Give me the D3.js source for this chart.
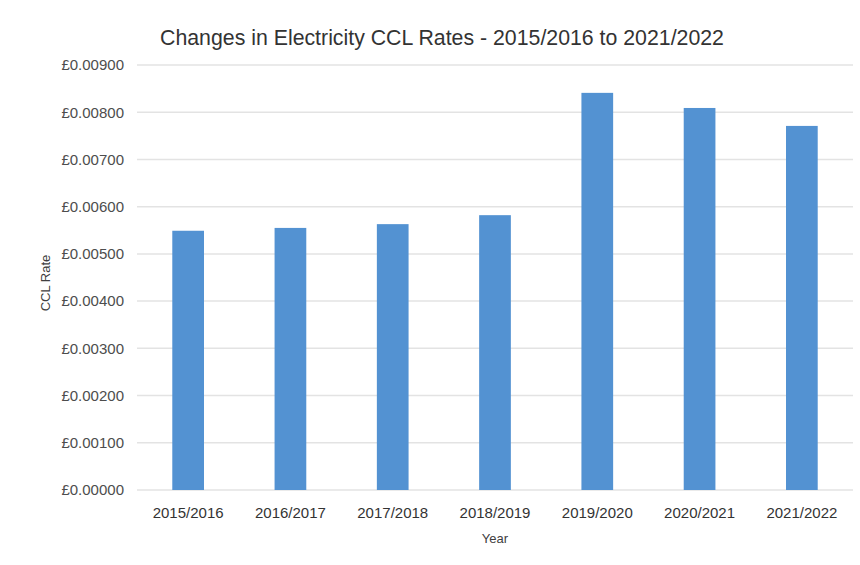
<!DOCTYPE html>
<html>
<head>
<meta charset="utf-8">
<script src="https://cdn.jsdelivr.net/npm/d3@7"></script>
<style>
  body { margin: 0; background: #fff; }
  svg { display: block; font-family: "Liberation Sans", Arial, sans-serif; }
</style>
</head>
<body>
<div id="chart"></div>
<script>
// data
const years = ["2015/2016", "2016/2017", "2017/2018", "2018/2019", "2019/2020", "2020/2021", "2021/2022"];
const rates = [0.00549, 0.00555, 0.00563, 0.00582, 0.00841, 0.00809, 0.00771];
const yTicks = [0, 0.001, 0.002, 0.003, 0.004, 0.005, 0.006, 0.007, 0.008, 0.009];

const width = 860, height = 565;
const plotLeft = 137, plotRight = 853, plotTop = 65, plotBottom = 490;

const svg = d3.select("#chart").append("svg")
    .attr("width", width)
    .attr("height", height);

const x = d3.scaleBand().domain(years).range([plotLeft, plotRight])
    .paddingInner(0.69).paddingOuter(0.345);
const y = d3.scaleLinear().domain([0, 0.009]).range([plotBottom, plotTop]);

// gridlines
svg.append("g")
    .selectAll("line")
    .data(yTicks)
    .join("line")
    .attr("x1", plotLeft).attr("x2", plotRight)
    .attr("y1", d => y(d)).attr("y2", d => y(d))
    .attr("stroke", "#e3e3e3")
    .attr("stroke-width", 1.5);

// y axis labels
const yAxis = d3.axisLeft(y).tickValues(yTicks).tickSize(0).tickPadding(0)
    .tickFormat(d => "£" + d.toFixed(5));
svg.append("g")
    .attr("transform", `translate(124,0)`)
    .call(yAxis)
    .call(g => g.select(".domain").remove())
    .selectAll("text")
    .attr("font-size", 15)
    .attr("font-family", "Liberation Sans, Arial, sans-serif")
    .attr("fill", "#4d4d4d");

// bars
svg.append("g")
    .selectAll("rect")
    .data(years)
    .join("rect")
    .attr("x", d => x(d))
    .attr("width", x.bandwidth())
    .attr("y", (d, i) => y(rates[i]))
    .attr("height", (d, i) => y(0) - y(rates[i]))
    .attr("fill", "#5392d2");

// x axis labels
const xAxis = d3.axisBottom(x).tickSize(0).tickPadding(0);
svg.append("g")
    .attr("transform", `translate(0,${plotBottom + 17})`)
    .call(xAxis)
    .call(g => g.select(".domain").remove())
    .selectAll("text")
    .attr("font-size", 15)
    .attr("font-family", "Liberation Sans, Arial, sans-serif")
    .attr("fill", "#333");

// title
svg.append("text")
    .attr("x", 442).attr("y", 45)
    .attr("text-anchor", "middle")
    .attr("font-size", 21.3)
    .attr("fill", "#333")
    .text("Changes in Electricity CCL Rates - 2015/2016 to 2021/2022");

// axis titles
svg.append("text")
    .attr("x", 495).attr("y", 543)
    .attr("text-anchor", "middle")
    .attr("font-size", 13)
    .attr("fill", "#404040")
    .text("Year");

svg.append("text")
    .attr("transform", "translate(50,283) rotate(-90)")
    .attr("text-anchor", "middle")
    .attr("font-size", 13)
    .attr("fill", "#404040")
    .text("CCL Rate");
</script>
</body>
</html>
